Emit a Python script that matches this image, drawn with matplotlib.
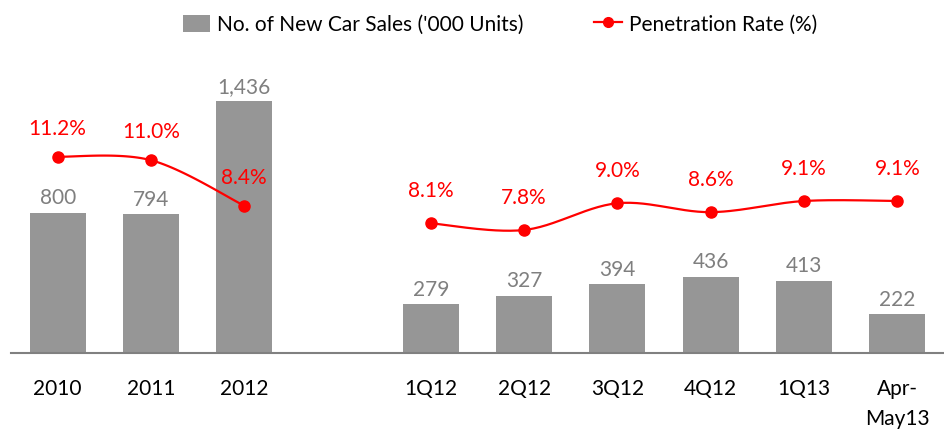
import numpy as np
import matplotlib.pyplot as plt
from matplotlib.patches import Patch
from matplotlib.lines import Line2D

plt.rcParams["font.family"] = ["Lato", "DejaVu Sans"]

# data
categories = ["2010", "2011", "2012", "", "1Q12", "2Q12", "3Q12", "4Q12", "1Q13", "Apr-\nMay13"]
annual_labels = ["2010", "2011", "2012"]
annual_sales = [800, 794, 1436]
annual_rate = [11.2, 11.0, 8.4]
quarter_labels = ["1Q12", "2Q12", "3Q12", "4Q12", "1Q13", "Apr-\nMay13"]
quarter_sales = [279, 327, 394, 436, 413, 222]
quarter_rate = [8.1, 7.8, 9.0, 8.6, 9.1, 9.1]

bar_color = "#969696"
line_color = "#ff0000"


def smooth(x, y, n=30):
    # excel-style smoothed line (bezier through the points)
    x = np.asarray(x, float)
    y = np.asarray(y, float)
    px = np.concatenate([[x[0]], x, [x[-1]]])
    py = np.concatenate([[y[0]], y, [y[-1]]])
    xs, ys = [], []
    t = np.linspace(0, 1, n)
    for i in range(1, len(px) - 2):
        p0 = np.array([px[i], py[i]])
        p3 = np.array([px[i + 1], py[i + 1]])
        c1 = p0 + (np.array([px[i + 1], py[i + 1]]) - np.array([px[i - 1], py[i - 1]])) / 6
        c2 = p3 - (np.array([px[i + 2], py[i + 2]]) - np.array([px[i], py[i]])) / 6
        b = ((1 - t) ** 3)[:, None] * p0 + (3 * (1 - t) ** 2 * t)[:, None] * c1 \
            + (3 * (1 - t) * t ** 2)[:, None] * c2 + (t ** 3)[:, None] * p3
        xs.extend(b[:, 0])
        ys.extend(b[:, 1])
    return xs, ys


fig = plt.figure(figsize=(9.45, 4.38), dpi=100)
ax1 = fig.add_axes([11 / 945, 85 / 438, 933 / 945, 293 / 438])

x_annual = np.arange(3)
x_quarter = np.arange(4, 10)

ax1.bar(x_annual, annual_sales, width=0.6, color=bar_color)
ax1.bar(x_quarter, quarter_sales, width=0.6, color=bar_color)
ax1.set_xlim(-0.5, 9.5)
ax1.set_ylim(0, 1670)

for xs_, vals in ((x_annual, annual_sales), (x_quarter, quarter_sales)):
    for xi, v in zip(xs_, vals):
        ax1.annotate(f"{v:,}", (xi, v), xytext=(0, 3), textcoords="offset points",
                     ha="center", va="bottom", fontsize=15, color="#7f7f7f")

ax1.set_xticks(np.arange(10))
ax1.set_xticklabels(categories, fontsize=15, linespacing=1.6, va="top")
ax1.tick_params(axis="x", length=0, pad=19)
ax1.set_yticks([])
for s in ["top", "left", "right"]:
    ax1.spines[s].set_visible(False)
ax1.spines["bottom"].set_color("#808080")
ax1.spines["bottom"].set_linewidth(1.5)

# penetration rate, two separate segments
ax2 = ax1.twinx()
ax2.set_ylim(-0.017, 16.726)
ax3 = ax1.twinx()
ax3.set_ylim(2.284, 15.423)
for ax, xs_, vals, off in ((ax2, x_annual, annual_rate, 13), (ax3, x_quarter, quarter_rate, 16)):
    sx, sy = smooth(xs_, vals)
    ax.plot(sx, sy, color=line_color, lw=1.6)
    ax.plot(xs_, vals, "o", color=line_color, ms=8)
    for xi, v in zip(xs_, vals):
        ax.annotate(f"{v:.1f}%", (xi, v), xytext=(0, off), textcoords="offset points",
                    ha="center", va="bottom", fontsize=15, color=line_color)
    ax.set_xlim(-0.5, 9.5)
    ax.set_yticks([])
    ax.axis("off")

handles = [
    Patch(facecolor=bar_color, label="No. of New Car Sales ('000 Units)"),
    Line2D([0], [0], color=line_color, marker="o", ms=7, lw=1.6, label="Penetration Rate (%)"),
]
fig.legend(handles=handles, loc="upper center", bbox_to_anchor=(0.529, 1.01), ncol=2,
           frameon=False, fontsize=15, handlelength=1.3, handleheight=0.9,
           columnspacing=3.4, handletextpad=0.35)

fig.savefig("out.png", dpi=100)
